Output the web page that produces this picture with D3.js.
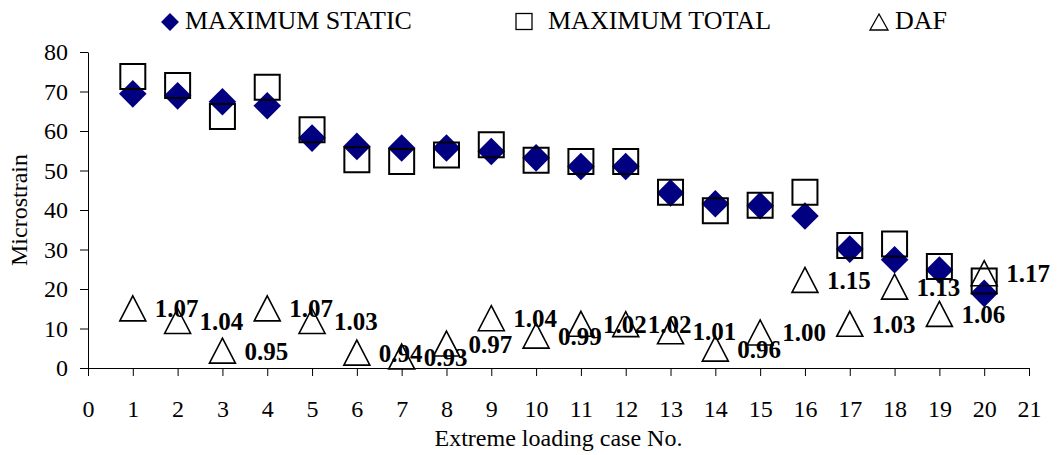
<!DOCTYPE html>
<html>
<head>
<meta charset="utf-8">
<script src="https://cdn.jsdelivr.net/npm/d3@7"></script>
<style>
  body { margin: 0; background: #fff; }
  text { font-family: 'Liberation Serif', 'Times New Roman', Times, serif; }
</style>
</head>
<body>
<div id="vis"></div>
<script>
var width = 1060;
var height = 455;

var CASES = [1, 2, 3, 4, 5, 6, 7, 8, 9, 10, 11, 12, 13, 14, 15, 16, 17, 18, 19, 20];
var MAX_STATIC = [69.4, 68.9, 67.4, 66.4, 58.2, 56.1, 55.7, 55.7, 54.8, 53.2, 51.0, 51.0, 44.3, 41.6, 41.1, 38.5, 30.1, 27.4, 24.8, 18.9];
var MAX_TOTAL = [73.8, 71.5, 63.7, 71.1, 60.3, 52.7, 52.3, 53.9, 56.5, 52.6, 52.3, 52.3, 44.5, 39.8, 41.2, 44.5, 31.0, 31.4, 25.7, 22.0];
var DAF_POS = [15.1, 11.9, 4.4, 15.1, 11.9, 3.9, 2.9, 6.2, 12.6, 8.2, 11.2, 11.1, 9.3, 4.9, 9.0, 22.3, 11.2, 20.6, 13.7, 24.0];
var DAF_LABELS = ['1.07', '1.04', '0.95', '1.07', '1.03', '0.94', '0.93', '0.97', '1.04', '0.99', '1.02', '1.02', '1.01', '0.96', '1.00', '1.15', '1.03', '1.13', '1.06', '1.17'];

var X_TICKS = [0, 1, 2, 3, 4, 5, 6, 7, 8, 9, 10, 11, 12, 13, 14, 15, 16, 17, 18, 19, 20, 21];
var Y_TICKS = [0, 10, 20, 30, 40, 50, 60, 70, 80];

var LEGEND = ['MAXIMUM STATIC', 'MAXIMUM TOTAL', 'DAF'];

var xScale = d3.scaleLinear().domain([0, 21]).range([88, 1029]);
var yScale = d3.scaleLinear().domain([0, 80]).range([368, 52]);

function trianglePath(w, h) {
  return 'M0,' + (-h / 2) + 'L' + (w / 2) + ',' + (h / 2) + 'L' + (-w / 2) + ',' + (h / 2) + 'Z';
}

var svg = d3.select('#vis').append('svg')
    .attr('width', width)
    .attr('height', height);

// axes
var xAxis = d3.axisBottom(xScale).tickValues(X_TICKS).tickSizeInner(8).tickSizeOuter(0).tickPadding(24);
var yAxis = d3.axisLeft(yScale).tickValues(Y_TICKS).tickSizeInner(8).tickSizeOuter(0).tickPadding(12);

var gx = svg.append('g')
    .attr('transform', 'translate(0,' + yScale(0) + ')')
    .call(xAxis);
var gy = svg.append('g')
    .attr('transform', 'translate(' + xScale(0) + ',0)')
    .call(yAxis);

[gx, gy].forEach(function(g) {
  g.selectAll('path, line').attr('stroke', '#000').attr('stroke-width', 1);
  g.selectAll('text')
    .attr('font-size', 24)
    .attr('fill', '#000');
});

svg.append('text')
    .attr('x', (xScale(0) + xScale(21)) / 2)
    .attr('y', 446)
    .attr('text-anchor', 'middle')
    .attr('font-size', 24)
    .text('Extreme loading case No.');

svg.append('text')
    .attr('transform', 'translate(27,' + ((yScale(0) + yScale(80)) / 2) + ')rotate(-90)')
    .attr('text-anchor', 'middle')
    .attr('font-size', 24)
    .text('Microstrain');

// series
var diamond = d3.symbol().type(d3.symbolSquare).size(380);
svg.append('g').selectAll('path')
    .data(CASES)
    .enter()
    .append('path')
    .attr('d', diamond)
    .attr('transform', function(d, i) {
      return 'translate(' + xScale(d) + ',' + yScale(MAX_STATIC[i]) + ')rotate(45)';
    })
    .attr('fill', '#000080');

var square = d3.symbol().type(d3.symbolSquare).size(625);
svg.append('g').selectAll('path')
    .data(CASES)
    .enter()
    .append('path')
    .attr('d', square)
    .attr('transform', function(d, i) {
      return 'translate(' + xScale(d) + ',' + yScale(MAX_TOTAL[i]) + ')';
    })
    .attr('fill', 'none')
    .attr('stroke', '#000')
    .attr('stroke-width', 2);

svg.append('g').selectAll('path')
    .data(CASES)
    .enter()
    .append('path')
    .attr('d', trianglePath(26, 25))
    .attr('transform', function(d, i) {
      return 'translate(' + xScale(d) + ',' + yScale(DAF_POS[i]) + ')';
    })
    .attr('fill', 'none')
    .attr('stroke', '#000')
    .attr('stroke-width', 1.6);

svg.append('g').selectAll('text')
    .data(CASES)
    .enter()
    .append('text')
    .attr('x', function(d) { return xScale(d) + 22; })
    .attr('y', function(d, i) { return yScale(DAF_POS[i]); })
    .attr('dy', '0.36em')
    .attr('font-size', 25)
    .attr('font-weight', 'bold')
    .text(function(d, i) { return DAF_LABELS[i]; });

// legend
var legend = svg.append('g');
legend.append('path')
    .attr('d', d3.symbol().type(d3.symbolSquare).size(160))
    .attr('transform', 'translate(170,22)rotate(45)')
    .attr('fill', '#000080');
legend.append('text').attr('x', 185).attr('y', 29).attr('font-size', 26).text(LEGEND[0]);

legend.append('rect')
    .attr('x', 516).attr('y', 13.5).attr('width', 16).attr('height', 16)
    .attr('fill', 'none').attr('stroke', '#000').attr('stroke-width', 1.3);
legend.append('text').attr('x', 548).attr('y', 29).attr('font-size', 26).text(LEGEND[1]);

legend.append('path')
    .attr('d', trianglePath(18, 16))
    .attr('transform', 'translate(879,22)')
    .attr('fill', 'none').attr('stroke', '#000').attr('stroke-width', 1.3);
legend.append('text').attr('x', 895).attr('y', 29).attr('font-size', 26).text(LEGEND[2]);
</script>
</body>
</html>
